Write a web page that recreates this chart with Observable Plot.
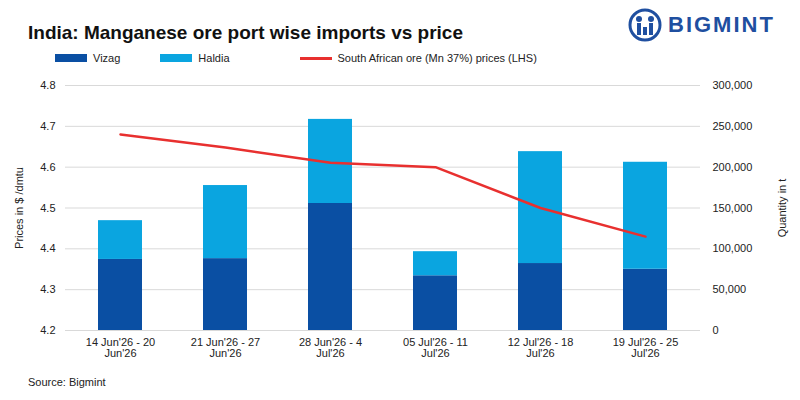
<!DOCTYPE html>
<html><head>
<script src="https://cdn.jsdelivr.net/npm/d3@7"></script>
<script src="https://cdn.jsdelivr.net/npm/@observablehq/plot@0.6"></script>
<style>
body{margin:0;font-family:Arial,"Liberation Sans",sans-serif;background:#fff;width:800px;height:400px;position:relative;overflow:hidden}
#title{position:absolute;left:28px;top:22px;font-size:19px;font-weight:bold;color:#111}
#logo{position:absolute;left:628px;top:8px;display:flex;align-items:center;gap:6px;color:#1f4fa0;font-weight:bold;font-size:22px;letter-spacing:2px}
#legend{position:absolute;left:55px;top:52px;font-size:11px;color:#222;display:flex;gap:0}
.li{display:flex;align-items:center;margin-right:40px}
.sw{width:32px;height:8px;margin-right:6px}
#chart{position:absolute;left:0;top:70px}
#src{position:absolute;left:28px;top:376px;font-size:11px;color:#222}
</style></head><body>
<div id="title">India: Manganese ore port wise imports vs price</div>
<div id="logo"><svg width="34" height="34" viewBox="0 0 34 34"><circle cx="17" cy="17" r="15" fill="none" stroke="#1f4fa0" stroke-width="3"/><circle cx="11" cy="11" r="3" fill="#1f4fa0"/><circle cx="23" cy="11" r="3" fill="#1f4fa0"/><rect x="9" y="15" width="4" height="12" fill="#1f4fa0"/><rect x="21" y="15" width="4" height="12" fill="#1f4fa0"/><rect x="15" y="19" width="4" height="8" fill="#1f4fa0"/></svg>BIGMINT</div>
<div id="legend">
<div class="li"><div class="sw" style="background:#0a4fa3"></div>Vizag</div>
<div class="li" style="margin-right:70px"><div class="sw" style="background:#0aa5e0"></div>Haldia</div>
<div class="li"><div class="sw" style="background:#e8302f;height:3px"></div>South African ore (Mn 37%) prices (LHS)</div>
</div>
<div id="chart"></div>
<div id="src">Source: Bigmint</div>
<script>
const weeks = ["14 Jun'26 - 20\nJun'26","21 Jun'26 - 27\nJun'26","28 Jun'26 - 4\nJul'26","05 Jul'26 - 11\nJul'26","12 Jul'26 - 18\nJul'26","19 Jul'26 - 25\nJul'26"];
const vizag = [87000, 88000, 155500, 67000, 82000, 75000];
const haldia = [47500, 89500, 103000, 29500, 137000, 131000];
const price = [4.68, 4.648, 4.611, 4.60, 4.50, 4.43];
const priceTicks = [4.2,4.3,4.4,4.5,4.6,4.7,4.8];
const p2q = p => (p-4.2)/0.6*300000;
const stack = [];
weeks.forEach((w,i)=>{stack.push({w,port:"Vizag",v:vizag[i]});stack.push({w,port:"Haldia",v:haldia[i]});});
const line = weeks.map((w,i)=>({w,q:p2q(price[i])}));
const chart = Plot.plot({
  width:800,height:305,marginTop:15,marginBottom:45,marginLeft:65,marginRight:100,
  style:{fontFamily:"Arial, Liberation Sans, sans-serif",fontSize:"11px",color:"#333"},
  x:{domain:weeks,paddingInner:0.58,paddingOuter:0.29,label:null},
  y:{domain:[0,300000]},
  color:{domain:["Vizag","Haldia"],range:["#0a4fa3","#0aa5e0"]},
  marks:[
    Plot.gridY([0,50000,100000,150000,200000,250000,300000],{stroke:"#d9d9d9",strokeOpacity:1}),
    Plot.barY(stack,{x:"w",y:"v",fill:"port",order:["Vizag","Haldia"]}),
    Plot.lineY(line,{x:"w",y:"q",stroke:"#e8302f",strokeWidth:2.5}),
    Plot.axisX({tickSize:0,tickPadding:8,lineWidth:20,fill:"#222",fontSize:11}),
    Plot.axisY(priceTicks.map(p2q),{anchor:"left",tickSize:0,tickPadding:10,tickFormat:(d,i)=>priceTicks[i].toFixed(1),label:"Prices in $ /dmtu",labelAnchor:"center",labelArrow:"none",labelOffset:50,fill:"#222"}),
    Plot.axisY([0,50000,100000,150000,200000,250000,300000],{anchor:"right",tickSize:0,tickPadding:12,tickFormat:d3.format(","),label:"Quantity in t",labelAnchor:"center",labelArrow:"none",labelOffset:85,fill:"#222"})
  ]
});
document.getElementById("chart").append(chart);
</script>
</body></html>
